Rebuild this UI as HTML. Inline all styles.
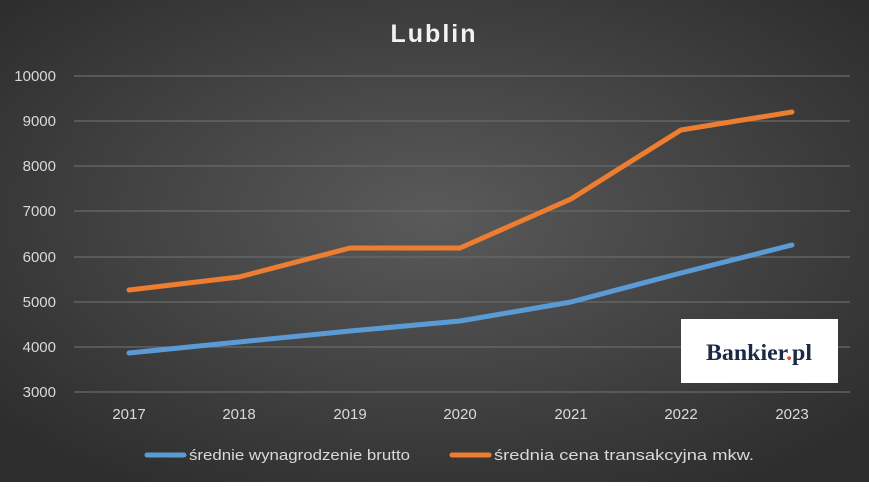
<!DOCTYPE html><html><head><style>body{margin:0}</style></head><body>
<svg width="869" height="482" xmlns="http://www.w3.org/2000/svg" font-family="Liberation Sans, sans-serif">
<defs><radialGradient id="g" cx="50%" cy="45%" r="65%"><stop offset="0" stop-color="#5a5a5a"/><stop offset="1" stop-color="#2e2e2e"/></radialGradient></defs>
<rect width="869" height="482" fill="url(#g)"/>
<text x="434" y="42" text-anchor="middle" fill="#f2f2f2" font-size="25" font-weight="bold" letter-spacing="2">Lublin</text>
<g stroke="#6a6a6a" stroke-width="1.3">
<line x1="74" x2="850" y1="76" y2="76"/><line x1="74" x2="850" y1="121" y2="121"/><line x1="74" x2="850" y1="166" y2="166"/><line x1="74" x2="850" y1="211" y2="211"/><line x1="74" x2="850" y1="257" y2="257"/><line x1="74" x2="850" y1="302" y2="302"/><line x1="74" x2="850" y1="347" y2="347"/><line x1="74" x2="850" y1="392" y2="392"/></g>
<g fill="#d9d9d9" font-size="15" text-anchor="end"><text x="56" y="81">10000</text><text x="56" y="126">9000</text><text x="56" y="171">8000</text><text x="56" y="216">7000</text><text x="56" y="262">6000</text><text x="56" y="307">5000</text><text x="56" y="352">4000</text><text x="56" y="397">3000</text></g>
<g fill="#d9d9d9" font-size="15" text-anchor="middle"><text x="129" y="419">2017</text><text x="239" y="419">2018</text><text x="350" y="419">2019</text><text x="460" y="419">2020</text><text x="571" y="419">2021</text><text x="681" y="419">2022</text><text x="792" y="419">2023</text></g>
<polyline fill="none" stroke="#ed7d31" stroke-width="5" stroke-linejoin="round" stroke-linecap="round" points="129,290 239,277 350,248 460,248 571,199 681,130 792,112"/>
<polyline fill="none" stroke="#5b9bd5" stroke-width="5" stroke-linejoin="round" stroke-linecap="round" points="129,353 239,342 350,331 460,321 571,302 681,273 792,245"/>
<rect x="681" y="319" width="157" height="64" fill="#fff"/>
<text x="706" y="360" font-family="Liberation Serif, serif" font-weight="bold" font-size="23" fill="#1a2a44" textLength="106" lengthAdjust="spacingAndGlyphs">Bankier<tspan fill="#e8452c">.</tspan>pl</text>
<line x1="147" x2="184" y1="455" y2="455" stroke="#5b9bd5" stroke-width="5" stroke-linecap="round"/>
<text x="189" y="460" fill="#d9d9d9" font-size="15" textLength="221" lengthAdjust="spacingAndGlyphs">średnie wynagrodzenie brutto</text>
<line x1="452" x2="489" y1="455" y2="455" stroke="#ed7d31" stroke-width="5" stroke-linecap="round"/>
<text x="494" y="460" fill="#d9d9d9" font-size="15" textLength="260" lengthAdjust="spacingAndGlyphs">średnia cena transakcyjna mkw.</text>
</svg></body></html>
